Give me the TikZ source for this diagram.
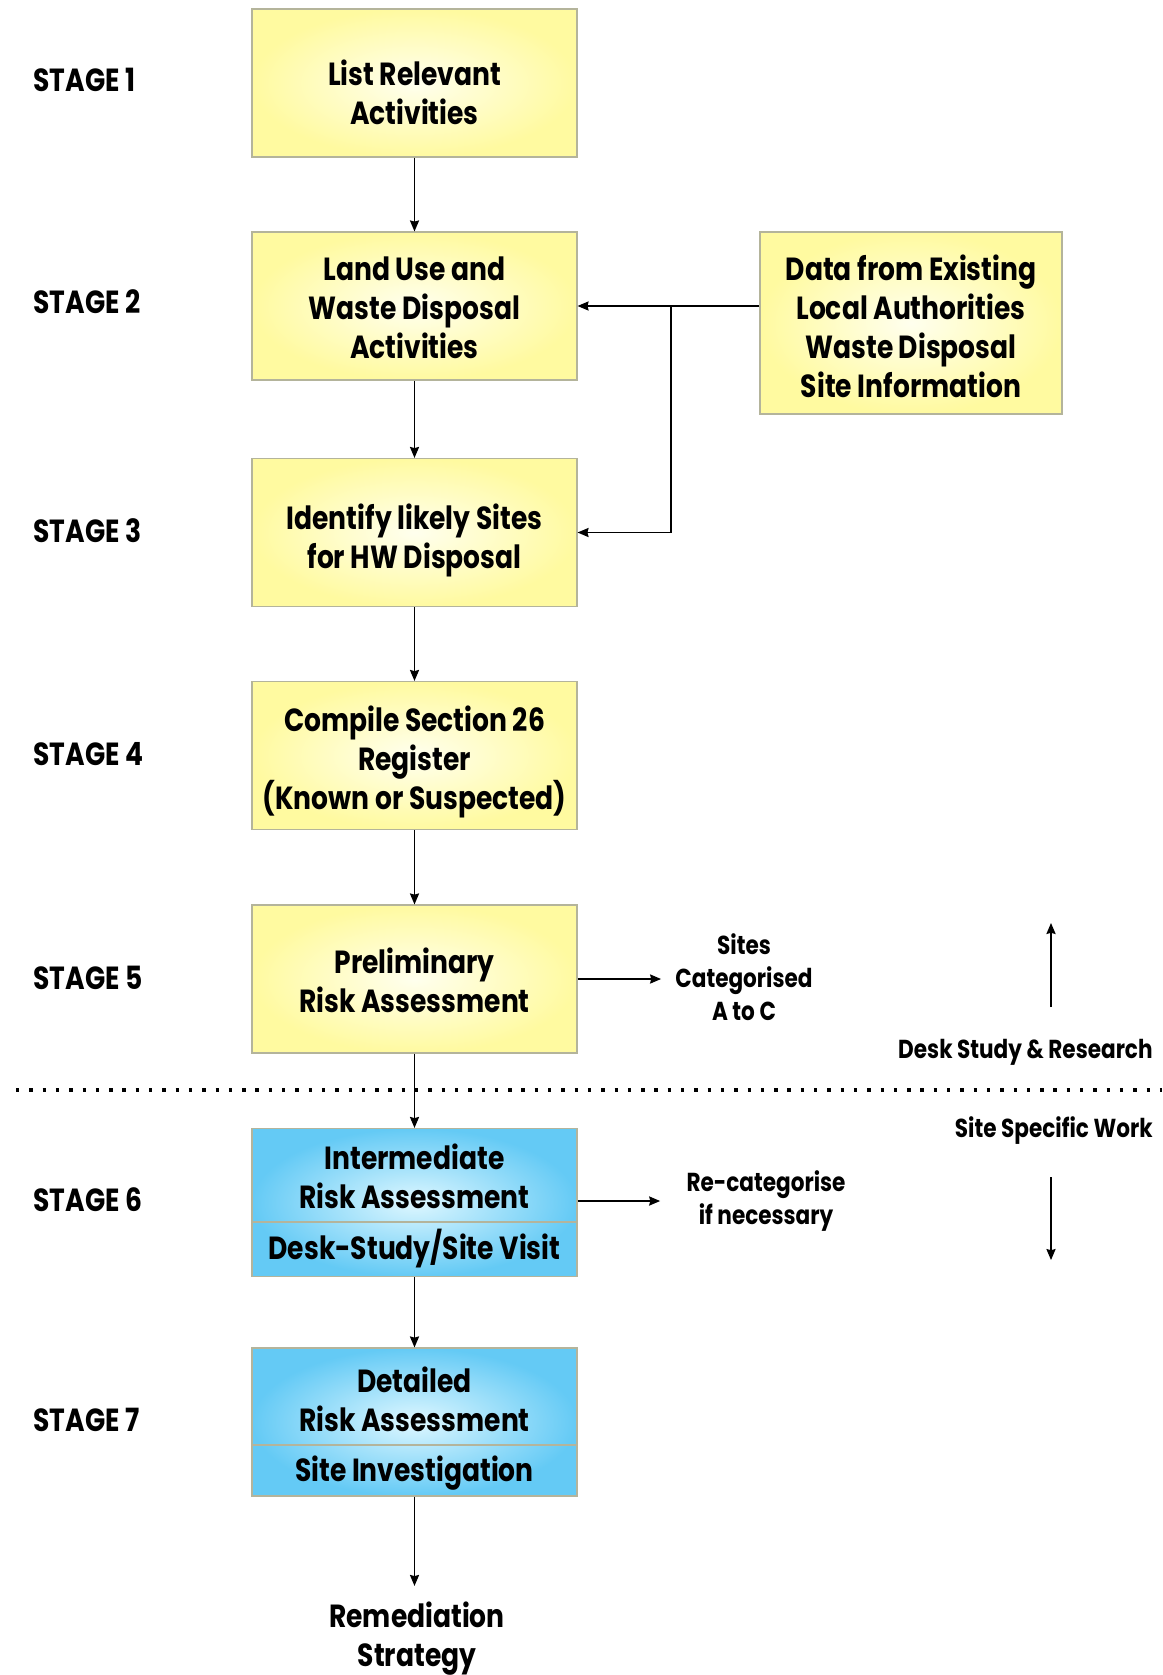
\documentclass[tikz,border=0pt]{standalone}
\usepackage{fontspec}
\setmainfont{Poppins}[FakeStretch=0.83]
\usetikzlibrary{arrows.meta}

\definecolor{ylwin}{RGB}{255,255,238}
\definecolor{ylwout}{RGB}{255,250,160}
\definecolor{bluin}{RGB}{222,247,255}
\definecolor{bluout}{RGB}{100,202,245}
\definecolor{boxedge}{RGB}{180,180,155}

\begin{document}
\begin{tikzpicture}[x=0.5pt,y=-0.5pt,
  ybox/.style={rectangle,draw=boxedge,line width=0.6pt,shading=radial,inner color=ylwin,outer color=ylwout,
    minimum width=162.5pt,minimum height=74pt,inner sep=0pt},
  bbox/.style={ybox,inner color=bluin,outer color=bluout},
  boxtext/.style={inner sep=0pt,align=center,font=\fontsize{16}{19.5}\selectfont\bfseries},
  smalltext/.style={inner sep=0pt,align=center,font=\fontsize{13}{16.5}\selectfont\bfseries},
  stagelbl/.style={inner sep=0pt,anchor=west,font=\fontsize{16}{19.5}\selectfont\bfseries},
  arr/.style={-{Stealth[length=5.5pt,width=4.6pt,inset=0.6pt]},line width=0.65pt},
  dotline/.style={line width=1.7pt,dash pattern=on 1.7pt off 4.95pt}]
\useasboundingbox (0,0) rectangle (1162,1675);

\node[stagelbl] (stage1) at (33,80) {STAGE 1};
\node[stagelbl] (stage2) at (33,302) {STAGE 2};
\node[stagelbl] (stage3) at (33,531) {STAGE 3};
\node[stagelbl] (stage4) at (33,754) {STAGE 4};
\node[stagelbl] (stage5) at (33,978) {STAGE 5};
\node[stagelbl] (stage6) at (33,1200) {STAGE 6};
\node[stagelbl] (stage7) at (33,1420) {STAGE 7};

\node[ybox] (b1) at (414.5,83) {};
\node[boxtext] (b1txt) at (414.5,92) {List Relevant\\Activities};
\node[ybox] (b2) at (414.5,306) {};
\node[boxtext] (b2txt) at (414.5,308) {Land Use and\\Waste Disposal\\Activities};
\node[ybox] (b3) at (414.5,532.5) {};
\node[boxtext] (b3txt) at (414.5,540) {Identify likely Sites\\for HW Disposal};
\node[ybox] (b4) at (414.5,755.5) {};
\node[boxtext] (b4txt) at (414.5,762) {Compile Section 26\\Register\\(Known or Suspected)};
\node[ybox] (b5) at (414.5,979) {};
\node[boxtext] (b5txt) at (414.5,980) {Preliminary\\Risk Assessment};
\node[bbox] (b6) at (414.5,1202.5) {};
\node[bbox] (b7) at (414.5,1422) {};
\node[ybox,minimum width=151pt,minimum height=91pt] (data) at (911,323) {};
\node[boxtext] (datatxt) at (911,326) {Data from Existing\\Local Authorities\\Waste Disposal\\Site Information};

\coordinate (b6cut) at (414.5,1222);
\draw[boxedge,line width=0.6pt] (b6.west |- b6cut) -- (b6.east |- b6cut);
\node[boxtext] (b6top) at (414.5,1176) {Intermediate\\Risk Assessment};
\node[boxtext] (b6low) at (414.5,1249) {Desk-Study/Site Visit};
\coordinate (b7cut) at (414.5,1445);
\draw[boxedge,line width=0.6pt] (b7.west |- b7cut) -- (b7.east |- b7cut);
\node[boxtext] (b7top) at (414.5,1399) {Detailed\\Risk Assessment};
\node[boxtext] (b7low) at (414.5,1473) {Site Investigation};

\node[boxtext] (remed) at (417,1639) {Remediation\\Strategy};

\draw[arr] (b1) -- (b2);
\draw[arr] (b2) -- (b3);
\draw[arr] (b3) -- (b4);
\draw[arr] (b4) -- (b5);
\draw[arr] (b5) -- (b6);
\draw[arr] (b6) -- (b7);
\draw[arr,shorten >=8pt] (b7.south) -- (b7.south |- remed.north);

\coordinate (jn) at (671,306);
\draw[arr] (data.west |- b2.east) -- (b2.east);
\draw[arr] (jn) |- (b3.east);

\node[smalltext] (sites) at (744,977) {Sites\\Categorised\\A to C};
\draw[arr,shorten >=7pt] (b5.east) -- (sites.west |- b5.east);
\node[smalltext] (recat) at (766,1201) {Re-categorise\\if necessary};
\draw[arr,shorten >=13pt] (b6.east |- recat) -- (recat.west);

\coordinate (dotl) at (16,1090);
\coordinate (dotr) at (1162,1090);
\draw[dotline] (dotl) -- (dotr);

\node[smalltext,anchor=east] (desk) at (1153,1052) {Desk Study \& Research};
\node[smalltext,anchor=east] (sitework) at (1153,1131) {Site Specific Work};
\coordinate (upbot) at (1051,1007);
\coordinate (uptop) at (1051,923);
\draw[arr] (upbot) -- (uptop);
\coordinate (dntop) at (1051,1177);
\coordinate (dnbot) at (1051,1260);
\draw[arr] (dntop) -- (dnbot);

\end{tikzpicture}
\end{document}
